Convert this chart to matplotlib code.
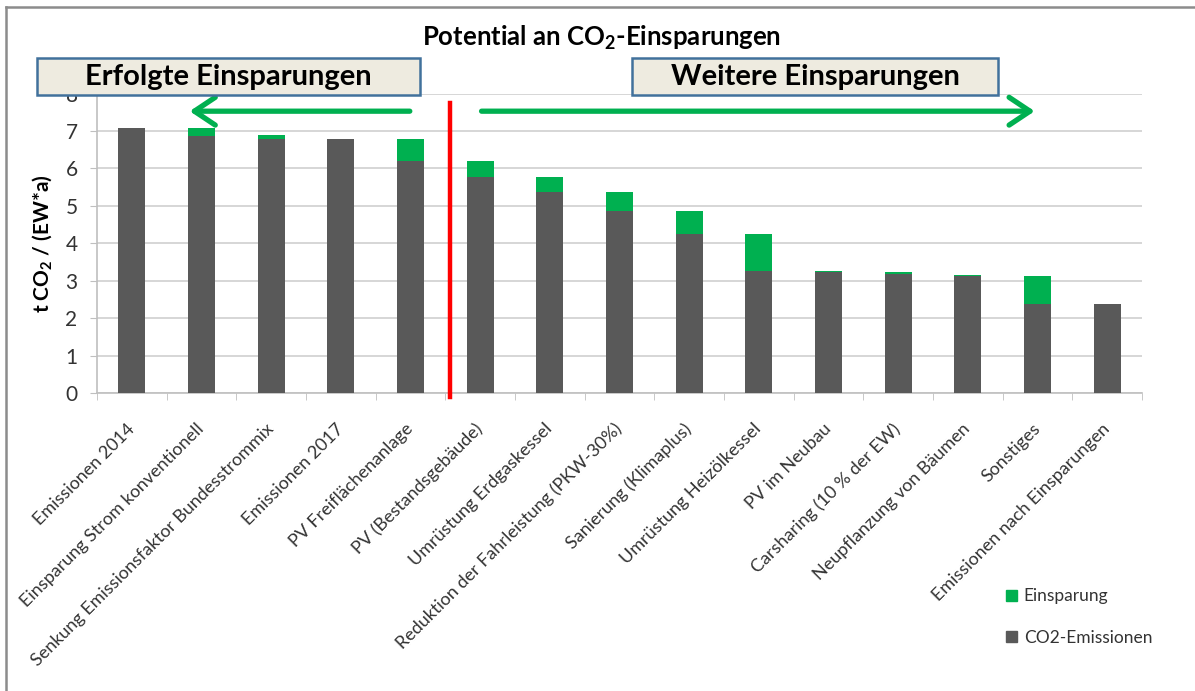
import matplotlib
matplotlib.use('Agg')
import matplotlib.pyplot as plt
from matplotlib.patches import Patch, Rectangle
from matplotlib.lines import Line2D
import numpy as np

plt.rcParams['font.family'] = ['Lato', 'DejaVu Sans']
plt.rcParams['mathtext.fontset'] = 'custom'
plt.rcParams['mathtext.rm'] = 'Lato'
plt.rcParams['mathtext.bf'] = 'Lato:bold'
plt.rcParams['mathtext.default'] = 'regular'

# data
kategorien = ['Emissionen 2014', 'Einsparung Strom konventionell',
              'Senkung Emissionsfaktor Bundesstrommix', 'Emissionen 2017',
              'PV Freiflächenanlage', 'PV (Bestandsgebäude)',
              'Umrüstung Erdgaskessel', 'Reduktion der Fahrleistung (PKW-30%)',
              'Sanierung (Klimaplus)', 'Umrüstung Heizölkessel', 'PV im Neubau',
              'Carsharing (10 % der EW)', 'Neupflanzung von Bäumen', 'Sonstiges',
              'Emissionen nach Einsparungen']
emissionen = [7.07, 6.88, 6.78, 6.78, 6.21, 5.78, 5.36, 4.86, 4.24, 3.25,
              3.22, 3.18, 3.12, 2.38, 2.38]
einsparung = [0.0, 0.19, 0.11, 0.0, 0.57, 0.43, 0.42, 0.50, 0.62, 0.99,
              0.04, 0.04, 0.02, 0.74, 0.0]
yticks = [0, 1, 2, 3, 4, 5, 6, 7, 8]

GRAU = '#595959'
GRUEN = '#00B050'
TXT = '#333333'

fig = plt.figure(figsize=(11.95, 6.91), dpi=100)
ax = fig.add_axes([97/1195, 1 - 393/691, (1142-97)/1195, (393-93.6)/691])

x = np.arange(len(kategorien))
ax.bar(x, emissionen, width=0.39, color=GRAU, zorder=3)
ax.bar(x, einsparung, width=0.39, bottom=emissionen, color=GRUEN, zorder=3)

ax.set_xlim(-0.5, len(kategorien) - 0.5)
ax.set_ylim(0, 8)
ax.set_yticks(yticks)
ax.yaxis.grid(True, color='#d0d0d0', lw=1.2, zorder=0)
for s in ['top', 'right']:
    ax.spines[s].set_visible(False)
for s in ['left', 'bottom']:
    ax.spines[s].set_color('#bfbfbf')
    ax.spines[s].set_linewidth(1.2)

ax.tick_params(axis='y', length=5, color='#bfbfbf', labelsize=15, labelcolor=TXT, pad=9)
ax.set_xticks(x)
ax.set_xticklabels(kategorien, rotation=45, ha='right', va='center',
                   rotation_mode='anchor', fontsize=13, color=TXT)
ax.tick_params(axis='x', length=0, pad=24)
ax.set_xticks(np.arange(-0.5, len(kategorien)), minor=True)
ax.tick_params(axis='x', which='minor', length=5, color='#bfbfbf')

ax.set_ylabel('t CO$_2$ / (EW*a)', fontsize=15, fontweight='bold', labelpad=8)

# red divider and arrows
ax.plot([4.56, 4.56], [-0.1, 7.76], color='#ff0000', lw=3.2, clip_on=False, zorder=5)
ax.annotate('', xy=(0.83, 7.53), xytext=(3.99, 7.53),
            arrowprops=dict(arrowstyle='->,head_length=0.75,head_width=0.5',
                            color=GRUEN, lw=3.8, mutation_scale=20, shrinkA=0, shrinkB=0))
ax.annotate('', xy=(12.96, 7.53), xytext=(5.02, 7.53),
            arrowprops=dict(arrowstyle='->,head_length=0.75,head_width=0.5',
                            color=GRUEN, lw=3.8, mutation_scale=20, shrinkA=0, shrinkB=0))

# title and boxes
fig.text(602/1195, 1 - 38/691, 'Potential an CO$_2$-Einsparungen', ha='center', va='center',
         fontsize=18.5, fontweight='bold', color='black')
for x0, x1, txt in [(37, 420, 'Erfolgte Einsparungen'), (632, 998, 'Weitere Einsparungen')]:
    fig.add_artist(Rectangle((x0/1195, 1 - 95/691), (x1-x0)/1195, 37/691,
                             transform=fig.transFigure, facecolor='#eeebe0',
                             edgecolor='#41719c', lw=1.8, zorder=6))
    fig.text((x0+x1)/2/1195, 1 - 77/691, txt, ha='center', va='center',
             fontsize=21, fontweight='bold', color='black', zorder=7)

# outer frame
fig.add_artist(Line2D([6/1195, 6/1195], [0, 1 - 7/691], transform=fig.transFigure,
                      color='#8c8c8c', lw=1.8))
fig.add_artist(Line2D([6/1195, 1], [1 - 7/691, 1 - 7/691], transform=fig.transFigure,
                      color='#8c8c8c', lw=1.8))

handles = [Patch(color=GRUEN), Patch(color=GRAU)]
fig.legend(handles, ['Einsparung', 'CO2-Emissionen'], loc='center left',
           bbox_to_anchor=(990/1195, 1 - 617/691), frameon=False, fontsize=12.5,
           handlelength=0.65, handleheight=0.65, handletextpad=0.4, labelspacing=1.45,
           labelcolor=TXT)

fig.savefig('out.png', dpi=100)
